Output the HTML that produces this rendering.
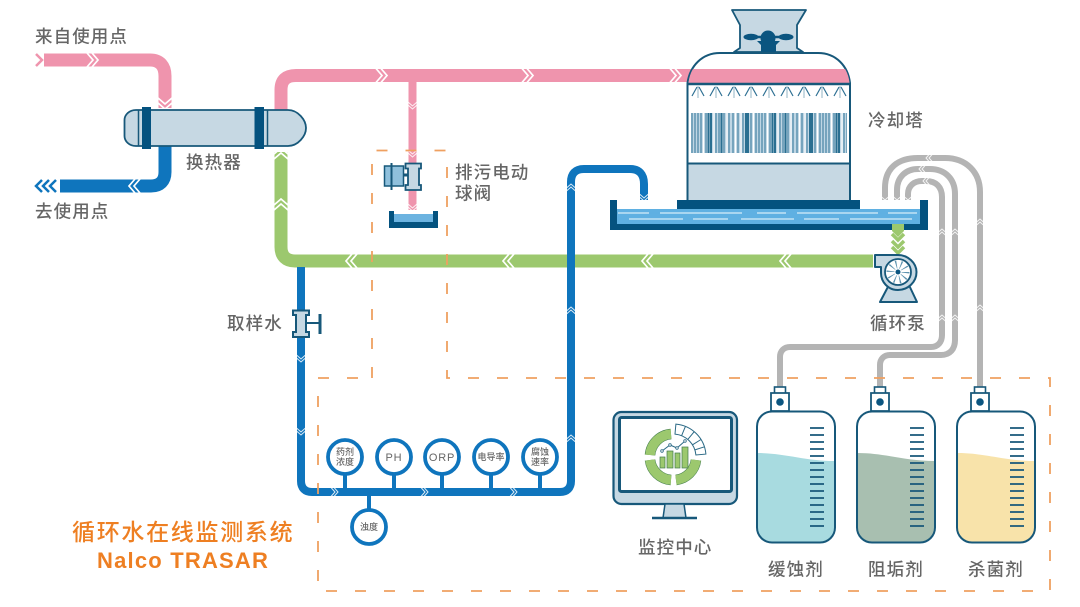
<!DOCTYPE html>
<html><head><meta charset="utf-8">
<style>
html,body{margin:0;padding:0;background:#fff}
svg{display:block}
text{font-family:"Liberation Sans","Noto Sans CJK SC",sans-serif}
.t{font-size:17.5px;letter-spacing:1.1px;fill:#666;font-weight:500}
.s{font-size:9px;fill:#666;text-anchor:middle;font-weight:500}
.o{fill:#ee7f22}
</style></head><body>
<svg width="1080" height="607" viewBox="0 0 1080 607" xmlns="http://www.w3.org/2000/svg">
<defs>
<path id="c" d="M-6 -7L0 0L-6 7M-1 -7L5 0L-1 7" fill="none" stroke="#fff" stroke-width="1.7"/>
<path id="cs" d="M-4 -4.5L0 0L-4 4.5M-1 -4.5L3 0L-1 4.5" fill="none" stroke="#fff" stroke-width="1" opacity=".85"/>
<g id="spray" fill="none" stroke="#7fa8bd" stroke-width="1.100">
<path d="M0 1V13" stroke="#9dbccb"/><path d="M-1 2L-6 11M1 2L6 11" stroke="#2e7093" stroke-width="1.200"/>
</g>
<pattern id="fill" x="691" y="113" width="64" height="40" patternUnits="userSpaceOnUse">
<rect width="64" height="40" fill="#bfd6e4"/>
<path d="M1 0v40M4 0v40M7 0v40M10 0v40M15 0v40M25 0v40M28 0v40M33 0v40M38 0v40M42 0v40M47 0v40M52 0v40M60 0v40" stroke="#4f89a8" stroke-width="1.300"/>
<path d="M17.500 0v40M20 0v40M30.500 0v40M55 0v40M57 0v40" stroke="#2a6f91" stroke-width="2"/>
<path d="M12.500 0v40M23 0v40M36 0v40M44.500 0v40M50 0v40M62.500 0v40" stroke="#fff" stroke-width="1.200"/>
</pattern>
<g id="jug">
<rect x="-5.500" y="-24" width="11" height="7" fill="#fff" stroke="#17587a" stroke-width="1.600"/>
<path d="M-9 -18H9V0H-9Z" fill="#fff" stroke="#17587a" stroke-width="1.800"/>
<circle cx="0" cy="-9" r="3.800" fill="#0b5580"/>
</g>
<g id="ticks" stroke="#17587a" stroke-width="1.800">
<path d="M0 0H14M0 7H14M0 14H14M0 21H14M0 28H14M0 35H14M0 42H14M0 49H14M0 56H14M0 63H14M0 70H14M0 77H14M0 84H14M0 91H14M0 98H14"/>
</g>
</defs>
<rect width="1080" height="607" fill="#fff"/>

<!-- gray chem pipes -->
<g fill="none" stroke="#b4b4b4" stroke-width="6">
<path d="M885 200V188C885 168 898 158 918 158H945C966 158 980 172 980 192V387"/>
<path d="M897 200V190C897 177 906 169 918 169H930C945 169 955 179 955 194V340C955 349 950 355 941 355H890C884 355 880 359 880 365V387"/>
<path d="M908 200V194C908 186 914 181 922 181H926C936 181 942 187 942 197V335C942 342 938 347 931 347H790C784 347 780 351 780 357V387"/>
</g>
<g>
<use href="#cs" transform="translate(929 158) rotate(180)"/>
<use href="#cs" transform="translate(922 169) rotate(180)"/>
<use href="#cs" transform="translate(926 181) rotate(180)"/>
<use href="#cs" transform="translate(980 222) rotate(-90)"/>
<use href="#cs" transform="translate(980 308) rotate(-90)"/>
<use href="#cs" transform="translate(942 232) rotate(-90)"/>
<use href="#cs" transform="translate(955 232) rotate(-90)"/>
<use href="#cs" transform="translate(942 318) rotate(-90)"/>
<use href="#cs" transform="translate(955 318) rotate(-90)"/>
<use href="#cs" transform="translate(885 200) rotate(90)"/>
<use href="#cs" transform="translate(897 200) rotate(90)"/>
<use href="#cs" transform="translate(908 200) rotate(90)"/>
</g>

<!-- green pipe -->
<path d="M281 152V247C281 256 286 261 295 261H873" fill="none" stroke="#9cc86e" stroke-width="13"/>
<use href="#c" transform="translate(281 153) rotate(-90)"/>
<use href="#c" transform="translate(281 204) rotate(-90)"/>
<use href="#c" transform="translate(351 261) rotate(180)"/>
<use href="#c" transform="translate(508 261) rotate(180)"/>
<use href="#c" transform="translate(647 261) rotate(180)"/>
<use href="#c" transform="translate(785 261) rotate(180)"/>

<!-- sample / blue pipe -->
<path d="M301 267V481C301 488 305 492 312 492H560C567 492 571 488 571 481V182C571 174 575 169 584 169H630C639 169 644 174 644 184V200" fill="none" stroke="#0f75bd" stroke-width="8"/>
<use href="#cs" transform="translate(301 359) rotate(90)"/>
<use href="#cs" transform="translate(301 432) rotate(90)"/>
<use href="#cs" transform="translate(335 492)"/>
<use href="#cs" transform="translate(425 492)"/>
<use href="#cs" transform="translate(514 492)"/>
<use href="#cs" transform="translate(571 438) rotate(-90)"/>
<use href="#cs" transform="translate(571 310) rotate(-90)"/>
<use href="#cs" transform="translate(571 187) rotate(-90)"/>
<use href="#cs" transform="translate(644 198) rotate(90)"/>

<!-- pink pipes -->
<path d="M44 60H150C160 60 165 66 165 76V108" fill="none" stroke="#ef94ad" stroke-width="13"/>
<path d="M36 54L42 60L36 66" fill="none" stroke="#ef94ad" stroke-width="2.500"/>
<use href="#c" transform="translate(93 60)"/>
<use href="#c" transform="translate(165 104) rotate(90)"/>
<path d="M281 112V90C281 80 286 75.500 296 75.500H692" fill="none" stroke="#ef94ad" stroke-width="13"/>
<use href="#c" transform="translate(382 75.500)"/>
<use href="#c" transform="translate(528 75.500)"/>
<use href="#c" transform="translate(676 75.500)"/>
<path d="M412.500 80V210" stroke="#ef94ad" stroke-width="8"/>
<use href="#cs" transform="translate(412.500 106) rotate(90)"/>
<use href="#cs" transform="translate(412.500 154) rotate(90)"/>
<use href="#cs" transform="translate(412.500 208) rotate(90)"/>

<!-- blue hot return -->
<path d="M165 146V172C165 181 160 186 151 186H60" fill="none" stroke="#0f75bd" stroke-width="13"/>
<path d="M42 180L36 186L42 192M49 180L43 186L49 192M56 180L50 186L56 192" fill="none" stroke="#0f75bd" stroke-width="2.500"/>
<use href="#c" transform="translate(134 186) rotate(180)"/>

<!-- heat exchanger -->
<path d="M136 110H288C298 110 306 120 306 128C306 136 298 146 288 146H136C129 146 124.500 141 124.500 136V120C124.500 115 129 110 136 110Z" fill="#c6d8e3" stroke="#17587a" stroke-width="1.800"/>
<path d="M138.500 110V146M267.500 110V146" stroke="#17587a" stroke-width="1.500"/>
<rect x="142" y="107" width="9" height="42" fill="#04527f"/>
<rect x="254.500" y="107" width="9.500" height="42" fill="#04527f"/>

<!-- cooling tower -->
<path d="M732 10H806L797 25V48L803 52H734L740 48V25Z" fill="#c6d8e3" stroke="#17587a" stroke-width="1.800" stroke-linejoin="round"/>
<path d="M749 37H787" stroke="#0b5580" stroke-width="2.500"/>
<ellipse cx="751" cy="37" rx="7.500" ry="3.200" fill="#0b5580"/>
<ellipse cx="786" cy="37" rx="7.500" ry="3.200" fill="#0b5580"/>
<circle cx="768" cy="38" r="7.500" fill="#0b5580"/>
<path d="M757 41H780L776 45V53H761V45Z" fill="#0b5580"/>
<path d="M687.500 83C690 66 702 53 720 53H818C836 53 848 66 850 83V200H687.500Z" fill="#fff" stroke="#17587a" stroke-width="2"/>
<path d="M693 69H845C847.500 73 849 78 849.500 83H688.500C689 78 690.500 73 693 69Z" fill="#ef94ad"/>
<path d="M687 84H850" stroke="#17587a" stroke-width="2.500"/>
<rect x="688.500" y="164" width="160.500" height="36" fill="#c6d8e3"/>
<path d="M687 163.500H850" stroke="#17587a" stroke-width="2"/>
<rect x="691" y="113" width="156" height="40" fill="url(#fill)"/>
<use href="#spray" x="698" y="85"/><use href="#spray" x="716" y="85"/><use href="#spray" x="734" y="85"/>
<use href="#spray" x="751" y="85"/><use href="#spray" x="769" y="85"/><use href="#spray" x="787" y="85"/>
<use href="#spray" x="804" y="85"/><use href="#spray" x="822" y="85"/><use href="#spray" x="840" y="85"/>

<!-- basin -->
<rect x="677" y="200" width="183" height="9" fill="#04527f"/>
<rect x="617" y="209" width="303" height="15" fill="#5fb0e2"/>
<path d="M610 200H617V224H920V200H928V230H610Z" fill="#04527f"/>
<path d="M618 213H649M660 213H742M757 213H786M797 213H878M888 213H917M629 219H683M693 219H728M741 219H794M804 219H839M850 219H912" stroke="#d5ecf8" stroke-width="1.300"/>

<!-- green drop + chevrons -->
<path d="M892 224H904V231L898 237L892 231Z" fill="#9cc86e"/>
<path d="M892 234L898 240L904 234M892 241L898 247L904 241M892 247L898 253L904 247" fill="none" stroke="#9cc86e" stroke-width="3.500"/>

<!-- pump -->
<path d="M890 283L880 302H917L908 283Z" fill="#c6d8e3" stroke="#17587a" stroke-width="2" stroke-linejoin="round"/>
<path d="M875 255H898C908 255 916.500 263 916.500 272C916.500 282 908 290 898 290C888 290 881 282 881 273V267H875Z" fill="#c6d8e3" stroke="#17587a" stroke-width="2" stroke-linejoin="round"/>
<circle cx="898" cy="272" r="13" fill="#fff" stroke="#17587a" stroke-width="1.800"/>
<circle cx="898" cy="272" r="7.500" fill="none" stroke="#5d93af" stroke-width="8" stroke-dasharray="1 3.700"/>
<circle cx="898" cy="272" r="2.500" fill="#0b5580"/>

<!-- drain valve & tray -->
<path d="M405.500 163.500H421V168.500H419V185H421V190H405.500V185H408V168.500H405.500Z" fill="#c6d8e3" stroke="#17587a" stroke-width="1.800"/>
<rect x="384.500" y="166" width="19" height="20" fill="#8fc0dc" stroke="#17587a" stroke-width="1.500"/>
<path d="M391.500 163V190" stroke="#17587a" stroke-width="2"/>
<path d="M403 175H408" stroke="#17587a" stroke-width="3"/>
<rect x="393" y="214" width="41" height="9" fill="#6cb3e0"/>
<path d="M389 211H394V222H433V211H438V228H389Z" fill="#04527f"/>

<!-- sample valve -->
<path d="M293 310.500H309V315H306V332H309V337H293V332H296V315H293Z" fill="#c6d8e3" stroke="#17587a" stroke-width="2"/>
<path d="M306 323H319" stroke="#17587a" stroke-width="2"/>
<path d="M320 314V334" stroke="#17587a" stroke-width="3"/>

<!-- sensors -->
<g stroke="#0f75bd" stroke-width="4" fill="none">
<path d="M345 474V490M394 474V490M442 474V490M491 474V490M540 474V490M369 494V511"/>
</g>
<g fill="#fff" stroke="#0f75bd" stroke-width="3.800">
<circle cx="345" cy="457" r="17"/><circle cx="394" cy="457" r="17"/><circle cx="442" cy="457" r="17"/>
<circle cx="491" cy="457" r="17"/><circle cx="540" cy="457" r="17"/><circle cx="369" cy="527" r="17"/>
</g>
<text class="s" x="345" y="455">药剂</text><text class="s" x="345" y="465">浓度</text>
<text class="s" x="394" y="461" style="font-size:11px;letter-spacing:.8px">PH</text>
<text class="s" x="442" y="461" style="font-size:11px;letter-spacing:.8px">ORP</text>
<text class="s" x="491" y="460">电导率</text>
<text class="s" x="540" y="455">腐蚀</text><text class="s" x="540" y="465">速率</text>
<text class="s" x="369" y="530">浊度</text>

<!-- monitor -->
<rect x="613.500" y="412" width="123.500" height="92" rx="8" fill="#c6d8e3" stroke="#17587a" stroke-width="2.200"/>
<rect x="619.500" y="417.500" width="112" height="74" rx="2" fill="#fff" stroke="#17587a" stroke-width="3"/>
<path d="M665 504H684L686 518H663Z" fill="#c6d8e3" stroke="#17587a" stroke-width="1.500"/>
<path d="M652 518H697" stroke="#17587a" stroke-width="2.500"/>
<g fill="none" stroke="#3f7a4a" stroke-width="10.500">
<path d="M650 455A23 23 0 0 1 671 434M650 460A23 23 0 0 0 671 480M676 480A23 23 0 0 0 696 460"/>
</g>
<g fill="none" stroke="#9cc86e" stroke-width="9.500">
<path d="M650 455A23 23 0 0 1 671 434M650 460A23 23 0 0 0 671 480M676 480A23 23 0 0 0 696 460"/>
</g>
<path d="M675.900 424.100A33 33 0 0 1 705.900 454.100L695.900 455A23 23 0 0 0 675 434.100ZM685.400 426.400L681.600 435.700M694.200 431.700L687.800 439.400M701 439.500L692.500 444.800M704.400 446.800L694.900 449.900" fill="#fff" stroke="#2c6a86" stroke-width="1"/>
<g fill="#9cc86e" stroke="#3f7a4a" stroke-width=".7">
<rect x="660" y="457" width="5" height="11"/><rect x="667" y="451" width="6" height="17"/><rect x="675" y="453" width="5" height="15"/><rect x="682" y="447" width="6" height="21"/>
</g>
<path d="M662 451L670 445L677 448L685 441" fill="none" stroke="#2c6a86" stroke-width="1"/>
<g fill="#fff" stroke="#2c6a86" stroke-width=".8"><circle cx="662" cy="451" r="1.300"/><circle cx="670" cy="445" r="1.300"/><circle cx="677" cy="448" r="1.300"/><circle cx="685" cy="441" r="1.300"/></g>

<!-- jugs -->
<use href="#jug" x="780" y="411"/><use href="#jug" x="880" y="411"/><use href="#jug" x="980" y="411"/>
<rect x="757" y="411.500" width="78" height="131" rx="15" fill="#fff"/>
<path d="M757.500 453C785 453 805 461 834.500 461V527C834.500 536 828 542 820 542H772C764 542 757.500 536 757.500 527Z" fill="#a8dbe0"/>
<path d="M857.500 453C885 453 905 461 934.500 461V527C934.500 536 928 542 920 542H872C864 542 857.500 536 857.500 527Z" fill="#a8bfb0"/>
<path d="M957.500 453C985 453 1005 461 1034.500 461V527C1034.500 536 1028 542 1020 542H972C964 542 957.500 536 957.500 527Z" fill="#f8e3aa"/>
<g fill="none" stroke="#17587a" stroke-width="2">
<rect x="757" y="411.500" width="78" height="131" rx="15"/>
<rect x="857" y="411.500" width="78" height="131" rx="15"/>
<rect x="957" y="411.500" width="78" height="131" rx="15"/>
</g>
<use href="#ticks" x="810" y="428"/><use href="#ticks" x="910" y="428"/><use href="#ticks" x="1010" y="428"/>

<!-- dashed boundary -->
<path d="M372 378V150.500H447V378H1050V591H318V378H372" fill="none" stroke="#efa060" stroke-width="1.800" stroke-dasharray="11 18"/>

<!-- labels -->
<text class="t" x="35" y="42.500">来自使用点</text>
<text class="t" x="35" y="217.500">去使用点</text>
<text class="t" x="186" y="168.500">换热器</text>
<text class="t" x="455" y="178.500">排污电动</text>
<text class="t" x="455" y="199.500">球阀</text>
<text class="t" x="868" y="126.500">冷却塔</text>
<text class="t" x="870" y="329.500">循环泵</text>
<text class="t" x="227" y="329.500">取样水</text>
<text class="t" x="638" y="553.500">监控中心</text>
<text class="t" x="768" y="575.500">缓蚀剂</text>
<text class="t" x="868" y="575.500">阻垢剂</text>
<text class="t" x="968" y="575.500">杀菌剂</text>
<text class="o" x="72" y="540" style="font-size:23px;letter-spacing:1.700px;font-weight:500">循环水在线监测系统</text>
<text class="o" x="97" y="568" style="font-size:22px;letter-spacing:1.200px;font-weight:bold">Nalco TRASAR</text>
</svg>
</body></html>
